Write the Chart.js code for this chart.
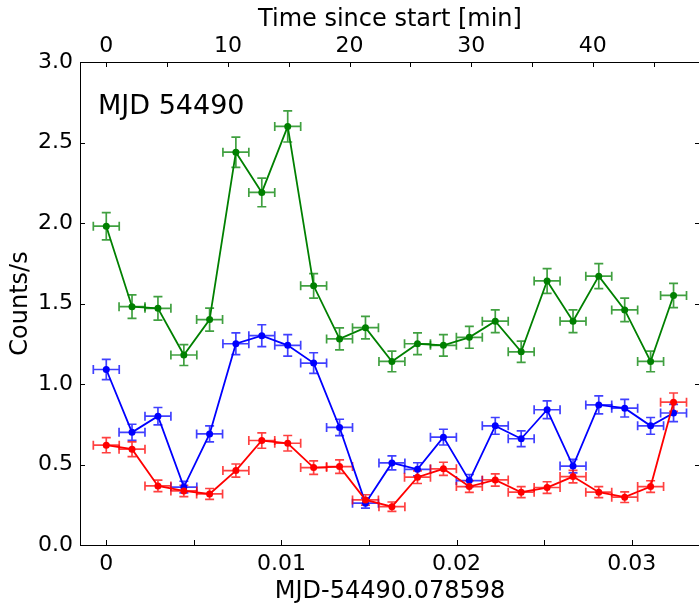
<!DOCTYPE html>
<html><head><meta charset="utf-8">
<script src="https://cdn.jsdelivr.net/npm/chart.js@4"></script>
<style>
html,body{margin:0;padding:0;overflow:hidden;background:#fff;width:699px;height:604px}
#wrap{position:absolute;left:0;top:0;width:704px;height:604px}
</style>
</head><body><div id="wrap"><canvas id="c" width="704" height="604"></canvas></div>
<script>
// time of each bin, MJD-54490.078598 (days)
const times = [0, 0.00147, 0.00295, 0.00443, 0.00590, 0.00740, 0.00888, 0.01036, 0.01184, 0.01332, 0.01480, 0.01631, 0.01777, 0.01925, 0.02073, 0.02221, 0.02369, 0.02517, 0.02665, 0.02812, 0.02960, 0.03108, 0.03239];
const timeErr = [0.00074,0.00074,0.00074,0.00074,0.00074,0.00074,0.00074,0.00074,0.00074,0.00074,0.00074,0.00074,0.00074,0.00074,0.00074,0.00074,0.00074,0.00074,0.00074,0.00074,0.00074,0.00074,0.00074];
const greenRate = [1.98, 1.48, 1.47, 1.18, 1.40, 2.44, 2.19, 2.60, 1.61, 1.28, 1.35, 1.14, 1.25, 1.24, 1.29, 1.39, 1.20, 1.64, 1.39, 1.67, 1.46, 1.14, 1.55];
const greenErr = [0.085, 0.073, 0.073, 0.065, 0.071, 0.094, 0.089, 0.097, 0.076, 0.068, 0.070, 0.064, 0.067, 0.067, 0.068, 0.071, 0.066, 0.077, 0.071, 0.078, 0.073, 0.064, 0.075];
const blueRate = [1.09, 0.70, 0.80, 0.36, 0.69, 1.25, 1.30, 1.24, 1.13, 0.73, 0.26, 0.51, 0.47, 0.67, 0.40, 0.74, 0.66, 0.84, 0.49, 0.87, 0.85, 0.74, 0.82];
const blueErr = [0.063, 0.050, 0.054, 0.036, 0.050, 0.067, 0.068, 0.067, 0.064, 0.051, 0.031, 0.043, 0.041, 0.049, 0.038, 0.052, 0.049, 0.055, 0.042, 0.056, 0.055, 0.052, 0.054];
const redRate = [0.62, 0.595, 0.367, 0.336, 0.317, 0.462, 0.649, 0.632, 0.481, 0.487, 0.280, 0.238, 0.421, 0.473, 0.363, 0.404, 0.328, 0.357, 0.425, 0.328, 0.297, 0.363, 0.887];
const redErr = [0.047, 0.046, 0.036, 0.035, 0.034, 0.041, 0.048, 0.048, 0.042, 0.042, 0.032, 0.029, 0.039, 0.041, 0.036, 0.038, 0.034, 0.036, 0.039, 0.034, 0.033, 0.036, 0.057];

const xMin = -0.0015, xMax = 0.0339;
const MIN_PER_DAY = 1440;
const FONT = "'DejaVu Sans', sans-serif";

function mk(vals, errs, color, errColor){
  return {
    data: times.map((t,i)=>({x:t, y:vals[i]})),
    yerr: errs, xerr: timeErr, errColor: errColor,
    borderColor: color, backgroundColor: color,
    pointBackgroundColor: color, pointBorderColor: color,
    borderWidth: 1.8, pointRadius: 3.5, pointBorderWidth: 0,
    tension: 0, fill: false
  };
}

const errPlugin = {
  id: 'err',
  beforeDatasetsDraw(chart){
    const ctx = chart.ctx, xs = chart.scales.x, ys = chart.scales.y;
    const cap = 4.5;
    chart.data.datasets.slice().reverse().forEach(ds=>{
      ctx.save();
      ctx.strokeStyle = ds.errColor; ctx.lineWidth = 1.7;
      ds.data.forEach((p,i)=>{
        const px = xs.getPixelForValue(p.x), py = ys.getPixelForValue(p.y);
        const x0 = xs.getPixelForValue(p.x - ds.xerr[i]), x1 = xs.getPixelForValue(p.x + ds.xerr[i]);
        const y0 = ys.getPixelForValue(p.y - ds.yerr[i]), y1 = ys.getPixelForValue(p.y + ds.yerr[i]);
        ctx.beginPath();
        ctx.moveTo(x0,py); ctx.lineTo(x1,py);
        ctx.moveTo(px,y0); ctx.lineTo(px,y1);
        ctx.moveTo(x0,py-cap); ctx.lineTo(x0,py+cap);
        ctx.moveTo(x1,py-cap); ctx.lineTo(x1,py+cap);
        ctx.moveTo(px-cap,y0); ctx.lineTo(px+cap,y0);
        ctx.moveTo(px-cap,y1); ctx.lineTo(px+cap,y1);
        ctx.stroke();
      });
      ctx.restore();
    });
  }
};

const frameTickPlugin = {
  id: 'frameTicks',
  afterDraw(chart){
    const ctx = chart.ctx, a = chart.chartArea;
    const xs = chart.scales.x, xt = chart.scales.xTop, ys = chart.scales.y;
    const L = 5;
    ctx.save();
    ctx.strokeStyle = '#000'; ctx.lineWidth = 1;
    ctx.strokeRect(Math.round(a.left)+0.5, Math.round(a.top)+0.5, Math.round(a.right-a.left), Math.round(a.bottom-a.top));
    ctx.beginPath();
    xs.ticks.forEach(t=>{ const p = Math.round(xs.getPixelForValue(t.value))+0.5; ctx.moveTo(p,a.bottom); ctx.lineTo(p,a.bottom-L); });
    xt.ticks.forEach(t=>{ const p = Math.round(xt.getPixelForValue(t.value))+0.5; ctx.moveTo(p,a.top); ctx.lineTo(p,a.top+L); });
    ys.ticks.forEach(t=>{ const p = Math.round(ys.getPixelForValue(t.value))+0.5; ctx.moveTo(a.left,p); ctx.lineTo(a.left+L,p); ctx.moveTo(a.right,p); ctx.lineTo(a.right-L,p); });
    ctx.stroke();
    // panel label
    ctx.fillStyle = '#000';
    ctx.font = "27px " + FONT;
    ctx.textBaseline = 'alphabetic';
    ctx.fillText('MJD 54490', a.left + 18, a.top + 52);
    ctx.restore();
  }
};

new Chart(document.getElementById('c'), {
  type: 'line',
  data: { datasets: [
    mk(redRate, redErr, '#ff0000', 'rgba(255,0,0,0.75)'),
    mk(blueRate, blueErr, '#0000ff', 'rgba(0,0,255,0.75)'),
    mk(greenRate, greenErr, '#008000', 'rgba(0,128,0,0.75)')
  ]},
  options: {
    responsive: false, animation: false, devicePixelRatio: 1,
    layout: { padding: { left: 0, right: 3, top: 0, bottom: 0 } },
    plugins: { legend: { display: false }, tooltip: { enabled: false } },
    scales: {
      x: {
        type: 'linear', position: 'bottom', min: xMin, max: xMax,
        grid: { display: false, drawTicks: false },
        border: { display: false },
        ticks: {
          stepSize: 0.005, includeBounds: false, autoSkip: false, maxRotation: 0,
          color: '#000', font: { family: FONT, size: 22 }, padding: 6,
          callback: v => { const k = v/0.01; if (Math.abs(k-Math.round(k))>1e-6) return ''; return Math.round(k)===0 ? '0' : (Math.round(k)*0.01).toFixed(2); }
        },
        title: { display: true, text: 'MJD-54490.078598', color: '#000', font: { family: FONT, size: 24 }, padding: { top: 0, bottom: -2 } },
        afterFit: s => { s.height = 59; }
      },
      xTop: {
        type: 'linear', position: 'top', display: true,
        min: xMin*MIN_PER_DAY, max: xMax*MIN_PER_DAY,
        grid: { display: false, drawTicks: false },
        border: { display: false },
        ticks: {
          stepSize: 5, includeBounds: false, autoSkip: false, maxRotation: 0,
          color: '#000', font: { family: FONT, size: 22 }, padding: 3,
          callback: v => (Math.abs(v/10 - Math.round(v/10))<1e-6) ? String(Math.round(v)) : ''
        },
        title: { display: true, text: 'Time since start [min]', color: '#000', font: { family: FONT, size: 24 }, padding: { top: 5, bottom: 0 } },
        afterFit: s => { s.height = 62; }
      },
      y: {
        type: 'linear', position: 'left', min: 0, max: 3,
        grid: { display: false, drawTicks: false },
        border: { display: false },
        ticks: { stepSize: 0.5, color: '#000', font: { family: FONT, size: 22 }, padding: 7, callback: v => v.toFixed(1) },
        title: { display: true, text: 'Counts/s', color: '#000', font: { family: FONT, size: 24 }, padding: { top: 6, bottom: 0 } },
        afterFit: s => { s.width = 80; }
      }
    }
  },
  plugins: [errPlugin, frameTickPlugin]
});
</script>
</body></html>
